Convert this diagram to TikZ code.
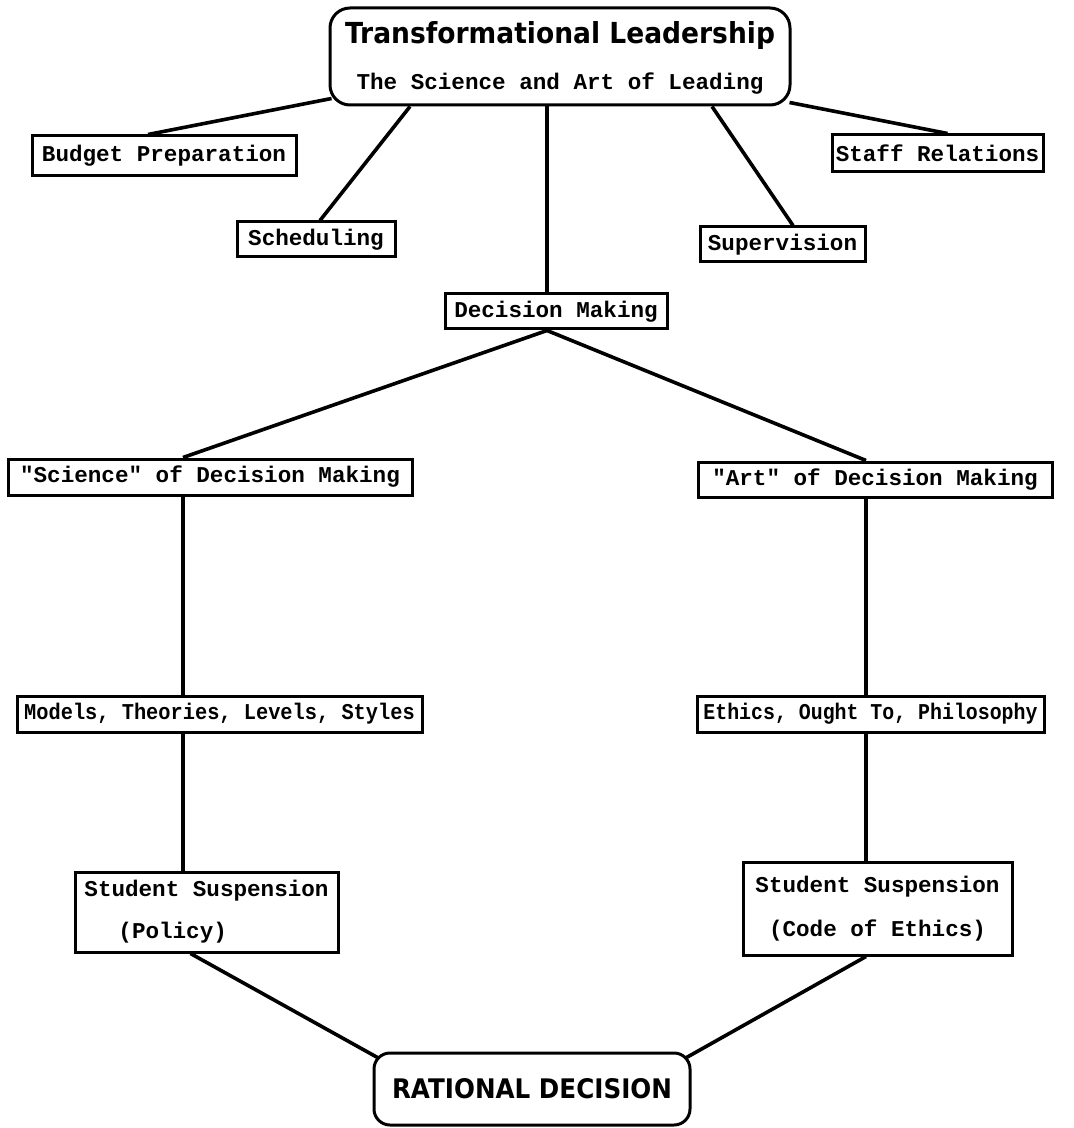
\documentclass[tikz,border=0pt]{standalone}
\usepackage{fontspec}
\usepackage{graphicx}
\setmonofont{Liberation Mono}
\newfontfamily\headfont{DejaVu Sans}
\usetikzlibrary{calc}
\begin{document}
\begin{tikzpicture}[x=0.5pt,y=-0.5pt,
  boxnode/.style={draw, line width=1.5pt, inner sep=0pt, align=center,
    font=\ttfamily\bfseries\fontsize{11.3}{13}\selectfont},
  plain/.style={inner sep=0pt, font=\ttfamily\bfseries\fontsize{11.3}{13}\selectfont},
  link/.style={line width=1.8pt}]
\useasboundingbox (0,0) rectangle (1073,1128);
% top box
\node[boxnode, rounded corners=10pt, minimum width=230pt, minimum height=48.5pt] (top) at (560,56.5) {};
\node[inner sep=0pt] (title) at (560,35.5) {\resizebox{215pt}{11pt}{\headfont\bfseries Transformational Leadership}};
\node[plain] (sub) at (560,84) {The Science and Art of Leading};
% first level
\node[boxnode, minimum width=132pt, minimum height=20pt] (budget) at (164,156) {Budget Preparation};
\node[boxnode, minimum width=79pt, minimum height=17.5pt] (sched) at (316,239.5) {Scheduling};
\node[boxnode, minimum width=82.5pt, minimum height=17.5pt] (superv) at (782.5,244.5) {Supervision};
\node[boxnode, minimum width=105.5pt, minimum height=18.5pt] (staff) at (937.5,153.5) {Staff Relations};
\node[boxnode, minimum width=111pt, minimum height=17.5pt] (dm) at (556,311.5) {Decision Making};
% second level
\node[boxnode, minimum width=202pt, minimum height=18pt] (sci) at (210,477) {"Science" of Decision Making};
\node[boxnode, minimum width=177pt, minimum height=17.5pt] (art) at (875,479.5) {"Art" of Decision Making};
\node[boxnode, minimum width=202.5pt, minimum height=18pt] (mod) at (219.5,714) {\scalebox{0.9}[1]{Models, Theories, Levels, Styles}};
\node[boxnode, minimum width=173.5pt, minimum height=18pt] (eth) at (870.5,714) {\scalebox{0.88}[1]{Ethics, Ought To, Philosophy}};
\node[boxnode, align=left, minimum width=131.5pt, minimum height=40pt,
  font=\ttfamily\bfseries\fontsize{11.3}{21}\selectfont] (pol) at (206.5,912) {Student Suspension\\\hspace*{17pt}(Policy)};
\node[boxnode, minimum width=134.5pt, minimum height=46.5pt,
  font=\ttfamily\bfseries\fontsize{11.3}{22}\selectfont] (code) at (877.5,908.5) {Student Suspension\\(Code of Ethics)};
\node[boxnode, rounded corners=8pt, minimum width=158pt, minimum height=36pt] (rat) at (532,1089)
  {\resizebox{140pt}{10pt}{\headfont\bfseries RATIONAL DECISION}};
% connectors
\coordinate (t3) at ($(top.south)+(-13,0)$);
\coordinate (d1) at ($(dm.south)+(-9,0)$);
\coordinate (s1) at ($(sci.south)+(-27,0)$);
\coordinate (a1) at ($(art.south)+(-9,0)$);
\draw[link] ($(top.south west)+(3,-8)$) -- ($(budget.north)+(-16,0)$);
\draw[link] ($(top.south)+(-150,0)$) -- ($(sched.north)+(4,0)$);
\draw[link] (t3) -- (t3 |- dm.north);
\draw[link] ($(top.south)+(152,0)$) -- ($(superv.north)+(10.5,0)$);
\draw[link] ($(top.south east)+(-2,-4)$) -- ($(staff.north)+(10,0)$);
\draw[link] (d1) -- ($(sci.north)+(-27,0)$);
\draw[link] (d1) -- ($(art.north)+(-9,0)$);
\draw[link] (s1) -- (s1 |- mod.north);
\draw[link] (s1 |- mod.south) -- (s1 |- pol.north);
\draw[link] (a1) -- (a1 |- eth.north);
\draw[link] (a1 |- eth.south) -- (a1 |- code.north);
\draw[link] ($(pol.south)+(-16,0)$) -- ($(rat.north west)+(5,6)$);
\draw[link] ($(code.south)+(-11.5,0)$) -- ($(rat.north east)+(-5,6)$);
\end{tikzpicture}
\end{document}
